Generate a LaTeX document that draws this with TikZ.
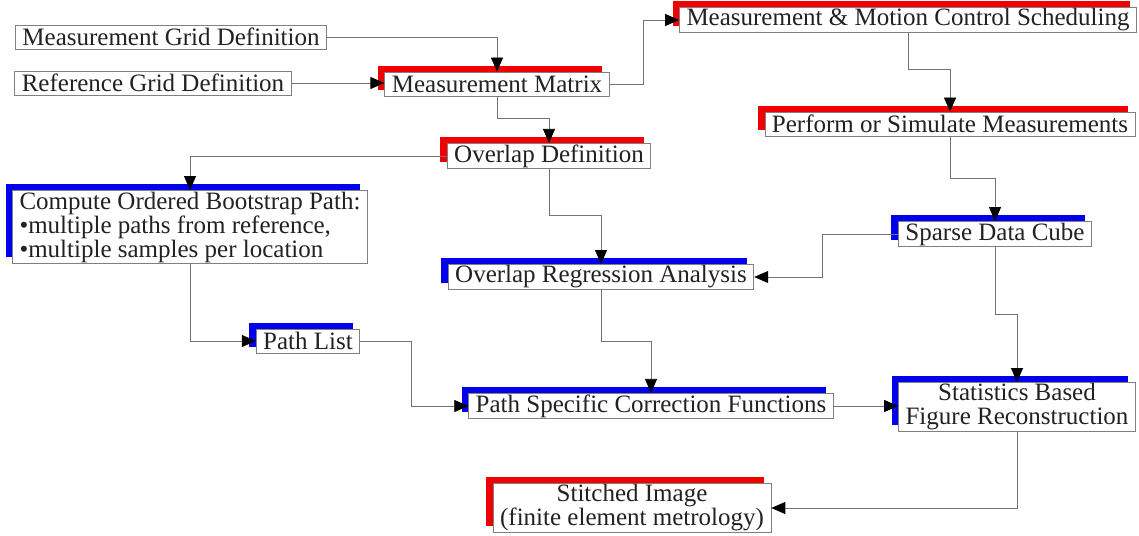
\documentclass[tikz,border=0pt]{standalone}
\usepackage{fontspec}
\setmainfont{Liberation Serif}
\usepackage{xcolor}
\usepackage{tikz}
\usetikzlibrary{arrows.meta, shadows}

\definecolor{boxred}{RGB}{240,0,0}
\definecolor{boxblue}{RGB}{0,0,235}
\definecolor{inkgray}{RGB}{34,34,34}

\begin{document}
\begin{tikzpicture}[x=0.5pt, y=-0.5pt,
  box/.style={draw=gray, fill=white, thin, text=inkgray, inner xsep=3.5pt, inner ysep=0.6pt,
    minimum height=12pt, font=\fontsize{12.5}{12}\selectfont},
  redbox/.style={box, general shadow={fill=boxred, shadow xshift=-3.5pt, shadow yshift=3.2pt}},
  bluebox/.style={box, general shadow={fill=boxblue, shadow xshift=-3.5pt, shadow yshift=3.2pt}},
  flow/.style={draw=gray!90!black, thin, -{Triangle[black, length=7pt, width=6pt]}}]
\useasboundingbox (0,0) rectangle (1139,535);
\node[box] (mgd) at (171,37) {Measurement Grid Definition};
\node[box] (rgd) at (153,83) {Reference Grid Definition};
\node[redbox] (mm) at (497,84) {Measurement Matrix};
\node[redbox] (mmcs) at (908,20) {Measurement \& Motion Control Scheduling};
\node[redbox] (psm) at (950,124) {Perform or Simulate Measurements};
\node[redbox] (od) at (549,156) {Overlap Definition};
\node[bluebox, align=left] (cobp) at (190,227) {Compute Ordered Bootstrap Path:\\
  •multiple paths from reference,\\ •multiple samples per location};
\node[bluebox] (sdc) at (995,234) {Sparse Data Cube};
\node[bluebox] (ora) at (601,277) {Overlap Regression Analysis};
\node[bluebox] (pl) at (308,341) {Path List};
\node[bluebox] (pscf) at (651,406) {Path Specific Correction Functions};
\node[bluebox, align=center] (sbfr) at (1017,407) {Statistics Based\\ Figure Reconstruction};
\node[redbox, align=center] (si) at (632,508) {Stitched Image\\ (finite element metrology)};

\draw[flow] (mgd.east) -| (mm.north);
\draw[flow] (rgd.east) -- (rgd.east -| mm.west);
\draw[flow] (mm.east) -- ++(34,0) |- (mmcs.west);
\draw[flow] (mm.south) -- ++(0,22) -| (od.north);
\draw[flow] (mmcs.south) -- ++(0,36) -| (psm.north);
\draw[flow] (psm.south) -- ++(0,42) -| (sdc.north);
\draw[flow] (od.west) -| (cobp.north);
\draw[flow] (od.south) -- ++(0,46) -| (ora.north);
\draw[flow] (sdc.west) -- ++(-76,0) |- (ora.east);
\draw[flow] (sdc.south) -- ++(0,67) -| (sbfr.north);
\draw[flow] (cobp.south) |- (pl.west);
\draw[flow] (pl.east) -- ++(51,0) |- (pscf.west);
\draw[flow] (ora.south) -- ++(0,51) -| (pscf.north);
\draw[flow] (pscf.east) -- (pscf.east -| sbfr.west);
\draw[flow] (sbfr.south) |- (si.east);
\end{tikzpicture}
\end{document}
